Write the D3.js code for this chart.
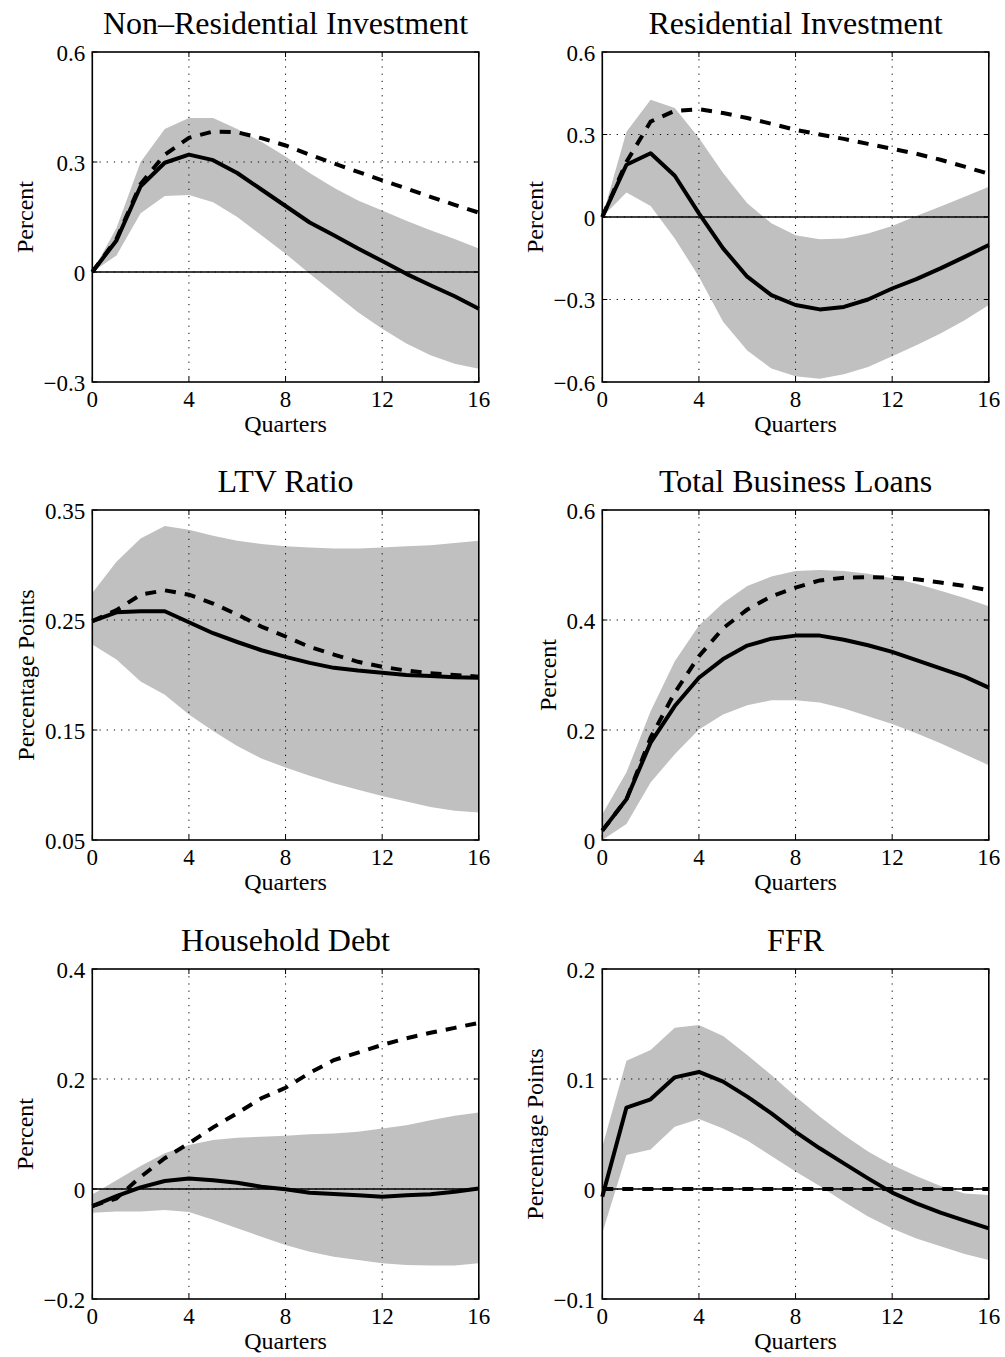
<!DOCTYPE html>
<html><head><meta charset="utf-8">
<script src="https://cdn.jsdelivr.net/npm/d3@7"></script>
<style>
body{margin:0;background:#fff}
svg{display:block}
text{font-family:"Liberation Serif","Times New Roman",Times,serif;fill:#000}
</style>
</head><body>
<svg id="chart" width="1005" height="1357"></svg>
<script>
// ---------------- data ----------------
const quarters = d3.range(0, 17);
const xTicks = [0, 4, 8, 12, 16];
const xLabel = "Quarters";

const titles = ["Non\u2013Residential Investment", "Residential Investment", "LTV Ratio",
                "Total Business Loans", "Household Debt", "FFR"];
const yLabels = ["Percent", "Percent", "Percentage Points", "Percent", "Percent", "Percentage Points"];

const yDomains = [[-0.3, 0.6], [-0.6, 0.6], [0.05, 0.35], [0, 0.6], [-0.2, 0.4], [-0.1, 0.2]];
const yTicks = [[-0.3, 0, 0.3, 0.6], [-0.6, -0.3, 0, 0.3, 0.6], [0.05, 0.15, 0.25, 0.35],
                [0, 0.2, 0.4, 0.6], [-0.2, 0, 0.2, 0.4], [-0.1, 0, 0.1, 0.2]];
const yTickLabels = [["\u22120.3", "0", "0.3", "0.6"], ["\u22120.6", "\u22120.3", "0", "0.3", "0.6"],
                     ["0.05", "0.15", "0.25", "0.35"], ["0", "0.2", "0.4", "0.6"],
                     ["\u22120.2", "0", "0.2", "0.4"], ["\u22120.1", "0", "0.1", "0.2"]];

// Non-Residential Investment
const nonResMedian = [0, 0.086, 0.234, 0.298, 0.32, 0.305, 0.27, 0.225, 0.18, 0.135, 0.1, 0.064, 0.03, -0.005, -0.036, -0.066, -0.1];
const nonResAlt    = [0, 0.09, 0.24, 0.32, 0.366, 0.383, 0.381, 0.365, 0.345, 0.32, 0.296, 0.273, 0.25, 0.228, 0.205, 0.183, 0.162];
const nonResUpper  = [0, 0.12, 0.30, 0.39, 0.42, 0.42, 0.39, 0.355, 0.315, 0.27, 0.23, 0.195, 0.168, 0.14, 0.114, 0.09, 0.064];
const nonResLower  = [0, 0.045, 0.16, 0.207, 0.21, 0.19, 0.15, 0.1, 0.05, -0.005, -0.057, -0.11, -0.155, -0.195, -0.227, -0.25, -0.264];

// Residential Investment
const resMedian = [0, 0.19, 0.232, 0.15, 0.013, -0.114, -0.217, -0.284, -0.32, -0.336, -0.327, -0.30, -0.26, -0.226, -0.187, -0.145, -0.102];
const resAlt    = [0, 0.2, 0.347, 0.386, 0.392, 0.378, 0.36, 0.339, 0.317, 0.30, 0.284, 0.266, 0.248, 0.23, 0.208, 0.183, 0.157];
const resUpper  = [0, 0.31, 0.426, 0.396, 0.287, 0.16, 0.05, -0.023, -0.066, -0.081, -0.078, -0.06, -0.033, 0.004, 0.038, 0.074, 0.11];
const resLower  = [0, 0.089, 0.04, -0.078, -0.217, -0.381, -0.485, -0.551, -0.579, -0.588, -0.572, -0.545, -0.506, -0.466, -0.424, -0.375, -0.32];

// LTV Ratio
const ltvMedian = [0.249, 0.257, 0.258, 0.258, 0.248, 0.238, 0.23, 0.2225, 0.2165, 0.211, 0.2065, 0.204, 0.202, 0.2, 0.199, 0.198, 0.1975];
const ltvAlt    = [0.249, 0.259, 0.273, 0.277, 0.273, 0.265, 0.255, 0.244, 0.235, 0.2255, 0.2186, 0.212, 0.2075, 0.204, 0.2015, 0.2, 0.1985];
const ltvUpper  = [0.2745, 0.303, 0.324, 0.3355, 0.332, 0.3265, 0.322, 0.319, 0.317, 0.316, 0.315, 0.315, 0.316, 0.317, 0.318, 0.32, 0.322];
const ltvLower  = [0.2277, 0.214, 0.194, 0.182, 0.164, 0.149, 0.1355, 0.124, 0.116, 0.1083, 0.1017, 0.0956, 0.09, 0.085, 0.08, 0.0766, 0.075];

// Total Business Loans
const loansMedian = [0.017, 0.074, 0.177, 0.2435, 0.295, 0.329, 0.3535, 0.366, 0.3716, 0.3716, 0.364, 0.354, 0.342, 0.327, 0.312, 0.297, 0.277];
const loansAlt    = [0.017, 0.074, 0.186, 0.268, 0.334, 0.385, 0.419, 0.443, 0.459, 0.472, 0.477, 0.478, 0.477, 0.474, 0.468, 0.462, 0.454];
const loansUpper  = [0.047, 0.123, 0.234, 0.325, 0.39, 0.431, 0.462, 0.479, 0.489, 0.491, 0.489, 0.484, 0.476, 0.466, 0.453, 0.44, 0.425];
const loansLower  = [0.0, 0.029, 0.1045, 0.156, 0.201, 0.228, 0.245, 0.254, 0.254, 0.25, 0.239, 0.225, 0.211, 0.194, 0.176, 0.156, 0.136];

// Household Debt
const hhMedian = [-0.031, -0.013, 0.003, 0.0145, 0.019, 0.016, 0.0115, 0.004, -0.0006, -0.0067, -0.009, -0.0115, -0.014, -0.0115, -0.0097, -0.005, 0.001];
const hhAlt    = [-0.031, -0.017, 0.022, 0.056, 0.083, 0.112, 0.138, 0.165, 0.184, 0.211, 0.2345, 0.248, 0.262, 0.274, 0.284, 0.293, 0.302];
const hhUpper  = [-0.01, 0.016, 0.042, 0.065, 0.08, 0.089, 0.093, 0.095, 0.097, 0.0994, 0.101, 0.104, 0.11, 0.116, 0.125, 0.133, 0.139];
const hhLower  = [-0.043, -0.041, -0.041, -0.038, -0.042, -0.056, -0.0715, -0.0867, -0.102, -0.114, -0.123, -0.129, -0.135, -0.138, -0.139, -0.139, -0.135];

// FFR
const ffrMedian = [-0.007, 0.074, 0.0815, 0.1015, 0.1064, 0.0976, 0.084, 0.0688, 0.052, 0.037, 0.0233, 0.0097, -0.0033, -0.013, -0.0215, -0.0288, -0.0358];
const ffrAlt    = [0, 0, 0, 0, 0, 0, 0, 0, 0, 0, 0, 0, 0, 0, 0, 0, 0];
const ffrUpper  = [0.0385, 0.1167, 0.1264, 0.1467, 0.149, 0.139, 0.1218, 0.1036, 0.084, 0.0658, 0.049, 0.034, 0.0218, 0.0118, 0.0027, -0.004, -0.0055];
const ffrLower  = [-0.04, 0.031, 0.036, 0.0567, 0.0636, 0.055, 0.044, 0.03, 0.0158, 0.0027, -0.0115, -0.025, -0.036, -0.045, -0.052, -0.059, -0.0645];

const medians = [nonResMedian, resMedian, ltvMedian, loansMedian, hhMedian, ffrMedian];
const alts    = [nonResAlt, resAlt, ltvAlt, loansAlt, hhAlt, ffrAlt];
const uppers  = [nonResUpper, resUpper, ltvUpper, loansUpper, hhUpper, ffrUpper];
const lowers  = [nonResLower, resLower, ltvLower, loansLower, hhLower, ffrLower];

// ---------------- layout ----------------
const colLeft = [92.3, 602.3];
const rowTop = [52, 510, 969];
const plotW = 386.5, plotH = 330;
const tickFont = 23, titleFont = 32, labelFont = 24;

const svg = d3.select("#chart");

titles.forEach((title, i) => {
  const left = colLeft[i % 2], top = rowTop[Math.floor(i / 2)];
  const g = svg.append("g").attr("transform", `translate(${left},${top})`);
  const x = d3.scaleLinear().domain([0, 16]).range([0, plotW]);
  const y = d3.scaleLinear().domain(yDomains[i]).range([plotH, 0]);

  // band
  const area = d3.area().x((d, k) => x(quarters[k])).y0((d, k) => y(lowers[i][k])).y1(d => y(d));
  g.append("path").datum(uppers[i]).attr("d", area).attr("fill", "#c0c0c0").attr("stroke", "none");

  // grid
  g.selectAll(".gx").data(xTicks.slice(1, -1)).enter().append("line")
    .attr("x1", d => x(d)).attr("x2", d => x(d)).attr("y1", 0).attr("y2", plotH)
    .attr("stroke", "#000").attr("stroke-width", 1).attr("stroke-dasharray", "1.2,6");
  g.selectAll(".gy").data(yTicks[i].filter(t => t > yDomains[i][0] && t < yDomains[i][1])).enter().append("line")
    .attr("x1", 0).attr("x2", plotW).attr("y1", d => y(d)).attr("y2", d => y(d))
    .attr("stroke", "#000").attr("stroke-width", 1).attr("stroke-dasharray", "1.2,6");

  // zero line
  if (yDomains[i][0] < 0 && yDomains[i][1] > 0) {
    g.append("line").attr("x1", 0).attr("x2", plotW).attr("y1", y(0)).attr("y2", y(0))
      .attr("stroke", "#000").attr("stroke-width", 1.3);
  }

  const line = d3.line().x((d, k) => x(quarters[k])).y(d => y(d));
  g.append("path").datum(alts[i]).attr("d", line).attr("fill", "none")
    .attr("stroke", "#000").attr("stroke-width", 4).attr("stroke-dasharray", "11,9");
  g.append("path").datum(medians[i]).attr("d", line).attr("fill", "none")
    .attr("stroke", "#000").attr("stroke-width", 4).attr("stroke-linejoin", "round");

  // inward ticks on all sides
  const tl = 5;
  xTicks.forEach(t => {
    g.append("line").attr("x1", x(t)).attr("x2", x(t)).attr("y1", plotH).attr("y2", plotH - tl).attr("stroke", "#000").attr("stroke-width", 1);
    g.append("line").attr("x1", x(t)).attr("x2", x(t)).attr("y1", 0).attr("y2", tl).attr("stroke", "#000").attr("stroke-width", 1);
  });
  yTicks[i].forEach(t => {
    g.append("line").attr("x1", 0).attr("x2", tl).attr("y1", y(t)).attr("y2", y(t)).attr("stroke", "#000").attr("stroke-width", 1);
    g.append("line").attr("x1", plotW).attr("x2", plotW - tl).attr("y1", y(t)).attr("y2", y(t)).attr("stroke", "#000").attr("stroke-width", 1);
  });

  // box
  g.append("rect").attr("x", 0).attr("y", 0).attr("width", plotW).attr("height", plotH)
    .attr("fill", "none").attr("stroke", "#000").attr("stroke-width", 1.6);

  // x tick labels
  g.selectAll(".xl").data(xTicks).enter().append("text")
    .attr("x", d => x(d)).attr("y", plotH + 25).attr("text-anchor", "middle")
    .attr("font-size", tickFont).text(d => d);

  // y tick labels
  const yl = g.selectAll(".yl").data(yTicks[i]).enter().append("text")
    .attr("x", -7).attr("y", d => y(d) + 8.5).attr("text-anchor", "end")
    .attr("font-size", tickFont).text((d, k) => yTickLabels[i][k]);
  let minX = 0;
  yl.each(function () { const b = this.getBBox(); minX = Math.min(minX, b.x); });

  // axis labels
  g.append("text").attr("x", plotW / 2).attr("y", plotH + 50).attr("text-anchor", "middle")
    .attr("font-size", labelFont).text(xLabel);
  g.append("text").attr("transform", `translate(${minX - 11},${plotH / 2}) rotate(-90)`)
    .attr("text-anchor", "middle").attr("font-size", labelFont).text(yLabels[i]);

  // title
  g.append("text").attr("x", plotW / 2).attr("y", -18).attr("text-anchor", "middle")
    .attr("font-size", titleFont).text(title);
});
</script>
</body></html>
